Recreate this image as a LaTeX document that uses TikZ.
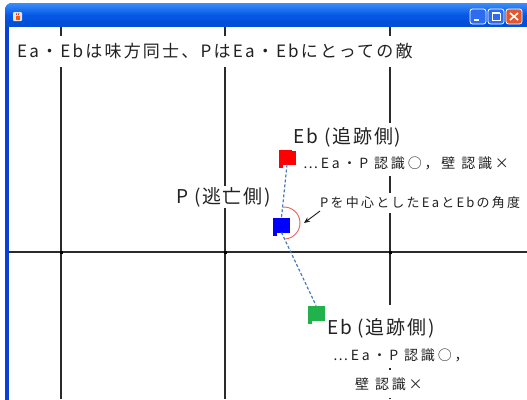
\documentclass[tikz,border=0pt]{standalone}
\usepackage{fontspec}
\setmainfont{Noto Sans CJK JP}[LetterSpace=13]
\usetikzlibrary{arrows.meta}
\definecolor{framec}{HTML}{0A3FD8}
\definecolor{tbtop}{HTML}{3C8EFA}
\definecolor{tbmid}{HTML}{0458E6}
\definecolor{tbbot}{HTML}{0350D8}
\definecolor{gridc}{HTML}{2A2A2A}
\definecolor{txtc}{HTML}{222222}
\definecolor{redc}{HTML}{FF0000}
\definecolor{bluec}{HTML}{0000FF}
\definecolor{greenc}{HTML}{22B24C}
\definecolor{dashc}{HTML}{4A7EBB}
\definecolor{arcc}{HTML}{F06060}
\definecolor{btnc}{HTML}{2D6BEF}
\definecolor{closec}{HTML}{E2572E}
\begin{document}
\begin{tikzpicture}[x=1pt,y=-1pt,
  gridline/.style={gridc, line width=1.8pt},
  lbl/.style={text=txtc, fill=white, inner xsep=2pt, inner ysep=0pt},
  big/.style={font=\fontsize{19pt}{21pt}\selectfont\addfontfeatures{LetterSpace=9}},
  mid/.style={font=\fontsize{14pt}{16pt}\selectfont\addfontfeatures{LetterSpace=20}},
  small/.style={font=\fontsize{13pt}{15pt}\selectfont\addfontfeatures{LetterSpace=17}},
  sq/.style={minimum width=17pt, minimum height=15pt, inner sep=0pt, outer sep=0pt},
  dashline/.style={dashc, line width=1.2pt, dash pattern=on 3pt off 2pt},
  anglearc/.style={arcc, line width=0.9pt},
  pointer/.style={draw=gray!20!black, line width=0.9pt, -{Stealth[length=6pt,width=5pt]}},
  winbtn/.style={rounded corners=2.5pt, draw=white, line width=0.8pt}
]
\useasboundingbox (0,0) rectangle (527,399);
\clip (0,0) rectangle (527,399);
% window frame and title bar
\fill[framec, rounded corners=7pt] (5,3) rectangle (560,430);
\shade[top color=tbtop, bottom color=tbbot, middle color=tbmid, rounded corners=7pt] (5,3) rectangle (560,27);
\fill[tbbot] (5,20) rectangle (560,27);
\fill[white] (9,27) rectangle (560,430);
% title icon
\fill[gray!20, rounded corners=1pt] (13,12) rectangle (22,21);
\fill[orange!70!red] (15.5,16) rectangle (19.5,19.5);
\draw[red!70!black, line width=0.6pt] (16.5,15) -- (17,13) (18.5,15) -- (19,13);
% buttons
\fill[btnc, winbtn] (470,9) rectangle (486,24);
\fill[white] (474,19) rectangle (479,21);
\fill[btnc, winbtn] (488,9) rectangle (504,24);
\draw[white, line width=0.9pt] (492,13) rectangle (500,20);
\draw[white, line width=1.8pt] (492,13) -- (500,13);
\fill[closec, winbtn] (506,9) rectangle (522,24);
\draw[white, line width=1.6pt] (510,13) -- (518,20) (518,13) -- (510,20);
% grid
\draw[gridline] (61,27) -- (61,399);
\draw[gridline] (225,27) -- (225,399);
\draw[gridline] (390,27) -- (390,399);
\draw[gridline] (9,252) -- (527,252);
\fill[black] (59.5,250.5) rectangle +(3,3);
\fill[black] (223.5,250.5) rectangle +(3,3);
\fill[black] (388.5,250.5) rectangle +(3,3);
% title text
\node[lbl, anchor=west, minimum height=31pt, font=\fontsize{17pt}{20pt}\selectfont] (title) at (15,51) {Ea・Ebは味方同士、PはEa・Ebにとっての敵};
% agents
\node[sq, fill=redc] (ebr) at (287,157) {};
\fill[redc] (ebr.south west) rectangle ++(4,3);
\node[sq, fill=bluec] (pb) at (281.5,225) {};
\fill[bluec] (pb.south west) rectangle ++(4,3);
\node[sq, fill=greenc] (ebg) at (316,313) {};
\fill[greenc] (ebg.south west) rectangle ++(4,3);
\draw[dashline] (ebr.south) -- (pb.north);
\draw[dashline] (pb.south) -- (ebg.north);
% angle arc
\coordinate (arcctr) at (284,223);
\draw[anglearc] (arcctr) ++(95:16pt) arc[start angle=95, end angle=-85, radius=16pt];
% labels
\node[lbl, big, minimum height=28pt] (ebrlbl) at (347.5,137) {Eb (追跡側)};
\node[lbl, mid, anchor=west, minimum height=26pt] (ebrinfo) at (301,163) {⋯Ea・P 認識○，壁 認識×};
\node[lbl, big, minimum height=22pt] (plbl) at (223.5,197) {P (逃亡側)};
\node[lbl, small, anchor=west, minimum height=20pt] (angt) at (318,203) {Pを中心としたEaとEbの角度};
\coordinate (arrS) at (320,211);
\coordinate (arrT) at (304,223);
\draw[pointer] (arrS) -- (arrT);
\node[lbl, big, anchor=west, minimum height=46pt] (ebglbl) at (325,328) {Eb (追跡側)};
\node[lbl, mid, anchor=west, minimum height=26pt] (ebginfo1) at (331,355) {⋯Ea・P 認識○，};
\node[lbl, mid, anchor=west, minimum height=28pt] (ebginfo2) at (353,384) {壁 認識×};
\end{tikzpicture}
\end{document}
